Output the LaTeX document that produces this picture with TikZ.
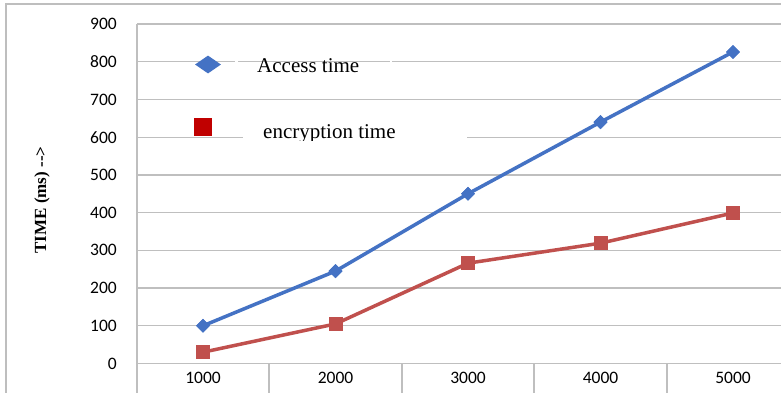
\documentclass[tikz,border=0pt]{standalone}
\usepackage{fontspec}
\setmainfont{Liberation Serif}
\newfontfamily\numfont{Carlito}
\usetikzlibrary{shapes.geometric}
\definecolor{gridgray}{RGB}{191,191,191}
\definecolor{bordergray}{RGB}{190,190,190}
\definecolor{accblue}{RGB}{68,114,196}
\definecolor{encred}{RGB}{192,80,77}
\definecolor{legred}{RGB}{192,0,0}
\tikzset{
  gridline/.style={draw=gridgray, line width=1.2pt},
  borderline/.style={draw=bordergray, line width=1.5pt},
  ticklabel/.style={font=\numfont\fontsize{17.5}{17.5}\selectfont, inner sep=0pt},
  serieslineA/.style={draw=accblue, line width=3.5pt},
  serieslineE/.style={draw=encred, line width=3.5pt},
  diamondmark/.style={diamond, fill=accblue, inner sep=0pt, minimum width=14pt, minimum height=14pt, aspect=1},
  squaremark/.style={rectangle, fill=encred, inner sep=0pt, minimum size=14pt},
  legtext/.style={font=\fontsize{21}{21}\selectfont, inner sep=0pt},
}
\begin{document}
\begin{tikzpicture}[x=1pt,y=-1pt]
\useasboundingbox (0,0) rectangle (781,392);
\clip (0,0) rectangle (781,392);
\fill[white] (0,0) rectangle (781,392);
% outer border
\draw[borderline] (6,400) -- (6,4) -- (790,4);
% grid lines and y labels
\foreach \v in {0,100,...,900}{
  \pgfmathsetmacro{\yy}{363.5-\v*0.3772}
  \draw[gridline] (137,\yy) -- (800,\yy);
  \node[ticklabel, anchor=east] (yl\v) at (117,\yy) {\v};
}
% axes
\draw[gridline] (137,24) -- (137,400);
\foreach \xx in {269,402,534,667}{
  \draw[gridline] (\xx,363.5) -- (\xx,400);
}
% x labels
\foreach \c/\xx in {1000/203,2000/335.5,3000/468,4000/600.5,5000/733}{
  \node[ticklabel] (xl\c) at (\xx,378) {\c};
}
% legend cover
\fill[white] (243,128) rectangle (467,145);
\fill[white] (235,58) rectangle (238,66);
\fill[white] (390,58) rectangle (392,66);
% series: access time
\node[diamondmark] (a1) at (203,{363.5-100*0.3772}) {};
\node[diamondmark] (a2) at (335.5,{363.5-245*0.3772}) {};
\node[diamondmark] (a3) at (468,{363.5-450*0.3772}) {};
\node[diamondmark] (a4) at (600.5,{363.5-640*0.3772}) {};
\node[diamondmark] (a5) at (733,{363.5-826*0.3772}) {};
\draw[serieslineA] (a1.center) -- (a2.center) -- (a3.center) -- (a4.center) -- (a5.center);
\foreach \xx/\v in {203/100,335.5/245,468/450,600.5/640,733/826}{
  \node[diamondmark] at (\xx,{363.5-\v*0.3772}) {};
}
% series: encryption time
\node[squaremark] (e1) at (203,{363.5-30*0.3772}) {};
\node[squaremark] (e2) at (335.5,{363.5-105*0.3772}) {};
\node[squaremark] (e3) at (468,{363.5-266*0.3772}) {};
\node[squaremark] (e4) at (600.5,{363.5-319*0.3772}) {};
\node[squaremark] (e5) at (733,{363.5-399*0.3772}) {};
\draw[serieslineE] (e1.center) -- (e2.center) -- (e3.center) -- (e4.center) -- (e5.center);
\foreach \xx/\v in {203/30,335.5/105,468/266,600.5/319,733/399}{
  \node[squaremark] at (\xx,{363.5-\v*0.3772}) {};
}
% legend
\node[diamond, fill=accblue, inner sep=0pt, minimum width=26pt, minimum height=18pt] (legA) at (208,64.5) {};
\node[legtext, anchor=base west] (legAt) at (257,72) {Access time};
\node[rectangle, fill=legred, inner sep=0pt, minimum size=18pt] (legE) at (203,127) {};
\begin{scope}
  \clip (240,100) rectangle (470,140.5);
  \node[legtext, anchor=base west] (legEt) at (263,138) {encryption time};
\end{scope}
% y axis title
\node[rotate=90, font=\bfseries\fontsize{17}{17}\selectfont, inner sep=0pt] (ytitle) at (42,200) {TIME (ms) -{}->};
\end{tikzpicture}
\end{document}
